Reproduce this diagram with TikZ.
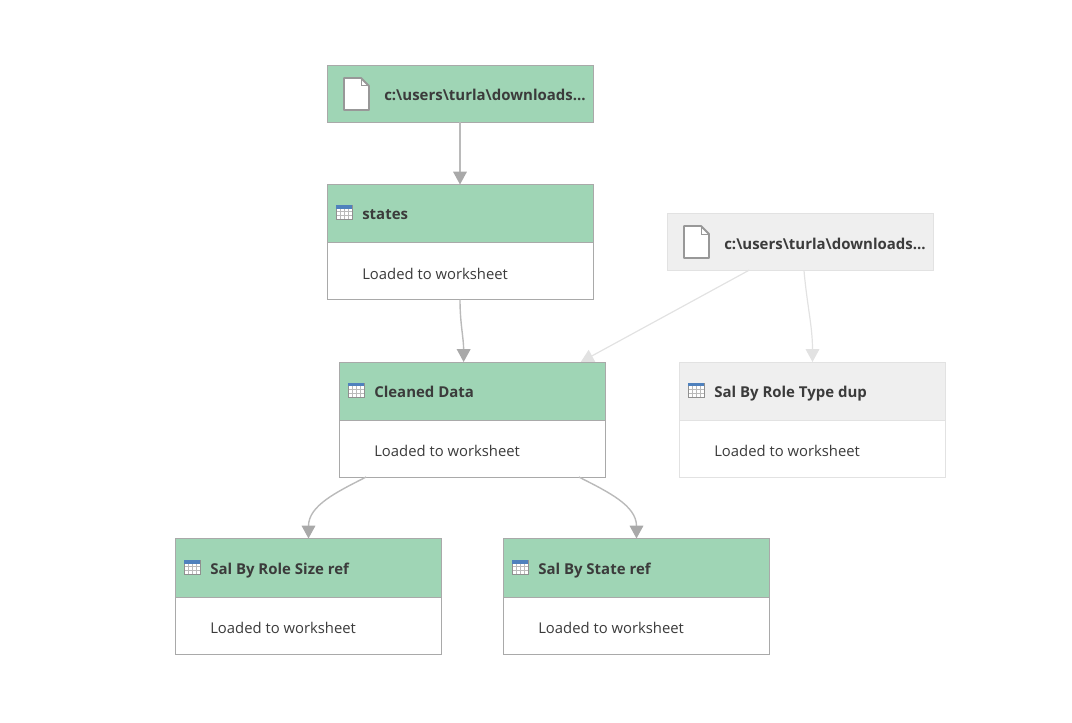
\documentclass[tikz,border=0pt]{standalone}
\usepackage{fontspec}
\setmainfont{Open Sans}
\usetikzlibrary{arrows.meta}
\definecolor{headc}{HTML}{9FD5B5}
\definecolor{edgec}{HTML}{A9A9A9}
\definecolor{paleh}{HTML}{EFEFEF}
\definecolor{palee}{HTML}{E2E2E2}
\definecolor{inkc}{HTML}{3B3B3B}
\definecolor{iconb}{HTML}{4F81BD}
\tikzset{
  head/.style={rectangle,draw=edgec,fill=headc,line width=.25mm,outer sep=0pt,minimum width=66.5mm,minimum height=14.5mm},
  body/.style={rectangle,draw=edgec,fill=white,line width=.25mm,outer sep=0pt,minimum width=66.5mm,minimum height=14.25mm},
  palehead/.style={head,draw=palee,fill=paleh},
  palebody/.style={body,draw=palee},
  titletxt/.style={anchor=base west,inner sep=0pt,text=inkc,font=\fontsize{10.65}{12}\selectfont\bfseries},
  notetxt/.style={anchor=base west,inner sep=0pt,text=inkc,font=\fontsize{10.55}{12}\selectfont},
  link/.style={draw=edgec!80,line width=.35mm,-{Triangle[width=3.4mm,length=3.2mm,color=edgec]}},
  palelink/.style={draw=palee,line width=.3mm,-{Triangle[width=3.4mm,length=3.2mm,color=palee]}},
  fileicon/.pic={
    \draw[fill=white,draw=edgec!90!black,line width=.45mm,line join=round]
      (-12,-16) -- (5,-16) -- (13,-8) -- (13,16) -- (-12,16) -- cycle;
    \draw[edgec!90!black,line width=.25mm] (5,-16) -- (5,-8) -- (13,-8);
  },
  tableicon/.pic={
    \fill[white] (-8,-7) rectangle (8,7);
    \foreach \gx in {-4,0,4} \draw[edgec!80,line width=.2mm] (\gx,-4) -- (\gx,7);
    \foreach \gy in {-1,3} \draw[edgec!80,line width=.2mm] (-8,\gy) -- (8,\gy);
    \draw[edgec!85!black,line width=.22mm] (-8,-7) rectangle (8,7);
    \fill[iconb] (-8.2,-7.2) rectangle (8.2,-4);
  }
}
\begin{document}
\begin{tikzpicture}[x=.25mm,y=-.25mm]
\useasboundingbox (0,0) rectangle (1072,723);
% top file and states
\node[head,minimum height=14.1mm] at (460,94.2) (src) {};
\node[head] at (460,213.5) (sthead) {};
\node[body] at (460,271) (stbody) {};
% second file
\node[palehead,minimum height=14.1mm] at (800,242) (srcb) {};
% middle row
\node[head] at (472.5,391) (cdhead) {};
\node[body] at (472.5,448.5) (cdbody) {};
\node[palehead] at (812.5,391) (duphead) {};
\node[palebody] at (812.5,448.5) (dupbody) {};
% bottom row
\node[head,minimum height=14.85mm] at (308.5,568.2) (rshead) {};
\node[body] at (308.5,626.25) (rsbody) {};
\node[head,minimum height=14.85mm] at (636.5,568.2) (srhead) {};
\node[body] at (636.5,626.25) (srbody) {};
% icons
\pic at (356,94) {fileicon};
\pic at (696,242) {fileicon};
\pic at (344,212.5) {tableicon};
\pic at (356,390) {tableicon};
\pic at (696,390) {tableicon};
\pic at (192,567.5) {tableicon};
\pic at (520,567.5) {tableicon};
% texts
\node[titletxt] at (384,100) (srctxt) {c:\textbackslash users\textbackslash turla\textbackslash downloads...};
\node[titletxt] at (724,249) (srcbtxt) {c:\textbackslash users\textbackslash turla\textbackslash downloads...};
\node[titletxt] at (362,219) (sttxt) {states};
\node[notetxt] at (362,279) (stnote) {Loaded to worksheet};
\node[titletxt] at (374,397.2) (cdtxt) {Cleaned Data};
\node[notetxt] at (374,456) (cdnote) {Loaded to worksheet};
\node[titletxt] at (714,397.2) (duptxt) {Sal By Role Type dup};
\node[notetxt] at (714,456) (dupnote) {Loaded to worksheet};
\node[titletxt] at (210,574) (rstxt) {Sal By Role Size ref};
\node[notetxt] at (210,633) (rsnote) {Loaded to worksheet};
\node[titletxt] at (538,574) (srtxt) {Sal By State ref};
\node[notetxt] at (538,633) (srnote) {Loaded to worksheet};
% links
\draw[link] (src) -- (sthead);
\draw[link] (stbody.south) to[out=-90,in=90] (cdhead.107);
\draw[link] (cdbody.195) to[out=207,in=90] (rshead.north);
\draw[link] (cdbody.-15) to[out=-27,in=90] (srhead.north);
\draw[palelink] (srcb.209) -- (cdhead.15);
\draw[palelink] (srcb.-82) to[out=-85,in=90] (duphead.north);
\end{tikzpicture}
\end{document}
